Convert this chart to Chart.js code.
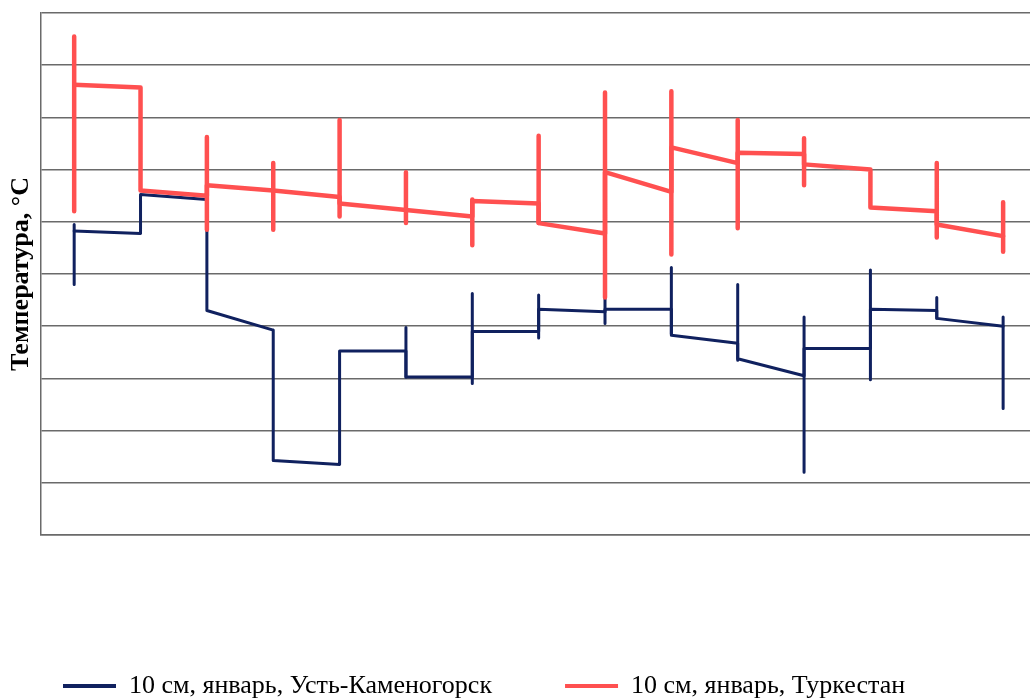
<!DOCTYPE html>
<html lang="ru">
<head>
<meta charset="utf-8">
<title>Температура почвы на глубине 10 см, январь</title>
<script src="https://cdn.jsdelivr.net/npm/chart.js@4.4.1/dist/chart.umd.min.js"></script>
<style>
  html, body { margin: 0; padding: 0; background: #fff; }
  canvas { display: block; }
</style>
</head>
<body>
<canvas id="soil" width="1030" height="699"></canvas>
<script>
// сроки наблюдений по оси X (подписей нет)
const periods = [0, 1, 2, 3, 4, 5, 6, 7, 8, 9, 10, 11, 12, 13, 14];

// Усть-Каменогорск: значение в конце отрезка (вход) и в начале следующего (выход)
const ukIn  = [null, -2.45, -1.15, -6.15, -11.3, -6.95, -7.95, -6.2, -5.45, -5.35, -6.65, -7.9, -6.85, -5.4, -6.0];
const ukOut = [-2.35, -0.95, -5.4, -11.15, -6.95, -7.95, -6.2, -5.35, -5.35, -6.35, -7.25, -6.85, -5.35, -5.7, null];
// разброс (верх / низ)
const ukHi  = [-2.1, null, null, null, null, -6.05, -4.75, -4.8, -4.85, -3.75, -4.4, -5.65, -3.85, -4.9, -5.65];
const ukLo  = [-4.4, null, null, null, null, -7.95, -8.2, -6.45, -5.9, -6.3, -7.3, -11.6, -8.05, -5.7, -9.15];

// Туркестан
const tuIn  = [null, 3.15, -1.0, -0.8, -1.05, -1.55, -1.8, -1.3, -2.45, -0.85, 0.25, 0.6, 0.0, -1.6, -2.55];
const tuOut = [3.25, -0.8, -0.6, -0.8, -1.3, -1.55, -1.2, -2.05, -0.1, 0.85, 0.65, 0.2, -1.45, -2.1, null];
const tuHi  = [5.1, null, 1.25, 0.25, 1.9, -0.1, -1.15, 1.3, 2.95, 3.0, 1.9, 1.2, null, 0.25, -1.25];
const tuLo  = [-1.6, null, -2.3, -2.3, -1.8, -2.05, -2.9, -2.05, -4.9, -3.25, -2.25, -0.6, null, -2.6, -3.15];

const ukColor = '#10215f';
const tuColor = '#ff5050';
const gridColor = '#6a6a6a';
const serif = "'Liberation Serif', 'Times New Roman', serif";

function stepLine(inV, outV) {
  let pts = [];
  periods.forEach((x, i) => {
    if (inV[i] !== null) pts.push({x: x, y: inV[i]});
    if (outV[i] !== null) pts.push({x: x, y: outV[i]});
  });
  return pts;
}

function whiskers(hi, lo) {
  let pts = [];
  periods.forEach((x, i) => {
    if (hi[i] === null) return;
    pts.push({x: x, y: hi[i]}, {x: x, y: lo[i]}, {x: x, y: null});
  });
  return pts;
}

const common = {
  showLine: true,
  pointRadius: 0,
  pointHoverRadius: 0,
  spanGaps: false,
  tension: 0,
  borderCapStyle: 'round',
  borderJoinStyle: 'round'
};

new Chart(document.getElementById('soil'), {
  type: 'scatter',
  data: {
    datasets: [
      {...common, label: '10 см, январь, Усть-Каменогорск', data: stepLine(ukIn, ukOut),
        borderColor: ukColor, backgroundColor: ukColor, borderWidth: 3, order: 2},
      {...common, label: '10 см, январь, Туркестан', data: stepLine(tuIn, tuOut),
        borderColor: tuColor, backgroundColor: tuColor, borderWidth: 4.5, order: 1},
      {...common, label: 'uk', data: whiskers(ukHi, ukLo),
        borderColor: ukColor, borderWidth: 3, order: 2},
      {...common, label: 'tu', data: whiskers(tuHi, tuLo),
        borderColor: tuColor, borderWidth: 4.5, order: 1}
    ]
  },
  options: {
    responsive: false,
    animation: false,
    events: [],
    // слева отрицательный отступ, чтобы легенда начиналась там же, где ось
    layout: {padding: {top: 13, left: -10, right: 0, bottom: -10}},
    scales: {
      x: {
        type: 'linear',
        min: -0.5,
        max: 14.405,
        ticks: {display: false},
        grid: {display: false},
        border: {display: true, color: gridColor, width: 1.5},
        afterFit: s => { s.height = 65; }
      },
      y: {
        min: -14,
        max: 6,
        ticks: {display: false, stepSize: 2},
        grid: {color: gridColor, lineWidth: 1.5, drawTicks: false},
        border: {display: true, color: gridColor, width: 1.5},
        title: {
          display: true,
          text: 'Температура, °C',
          color: '#000',
          font: {family: serif, size: 26, weight: 'bold'},
          padding: {top: 16, bottom: 0}
        },
        afterFit: s => { s.width = 51; }
      }
    },
    plugins: {
      tooltip: {enabled: false},
      legend: {
        position: 'bottom',
        align: 'start',
        labels: {
          color: '#000',
          font: {family: serif, size: 26},
          boxWidth: 53,
          boxHeight: 4,
          padding: 73,
          generateLabels: chart => chart.data.datasets.map((ds, i) => ({
            text: ds.label,
            fillStyle: ds.borderColor,
            strokeStyle: ds.borderColor,
            lineWidth: 0,
            hidden: false,
            datasetIndex: i
          })),
          filter: item => item.datasetIndex < 2
        }
      }
    }
  }
});
</script>
</body>
</html>
